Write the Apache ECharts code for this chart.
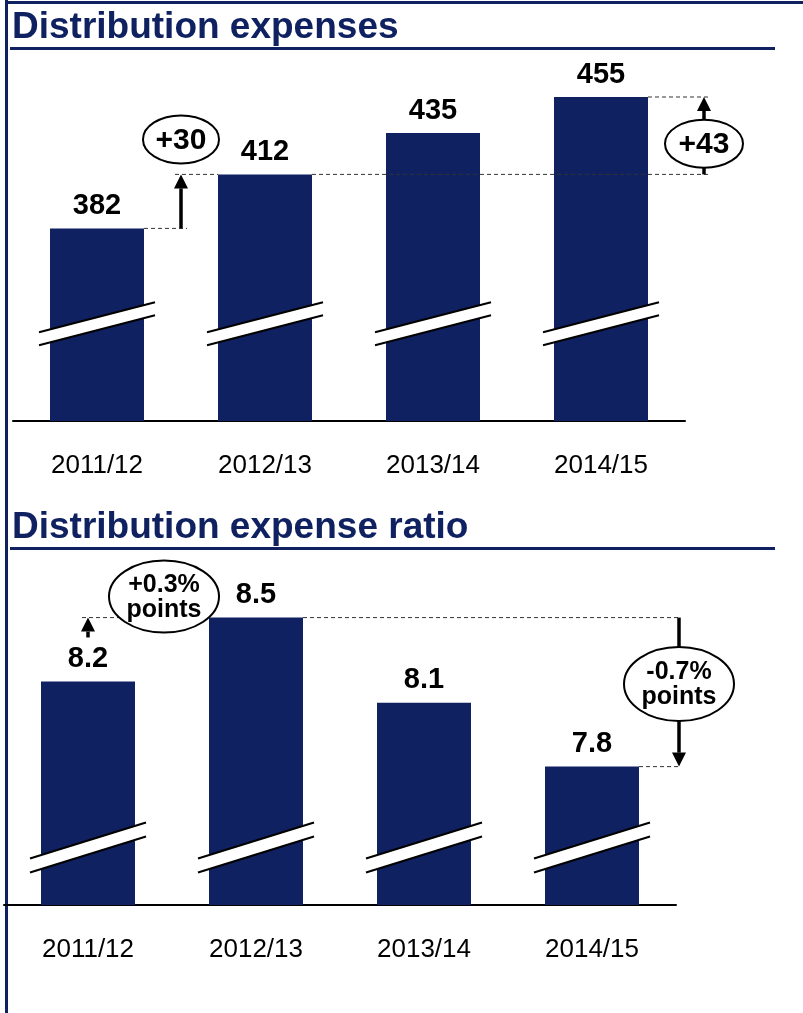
<!DOCTYPE html>
<html>
<head>
<meta charset="utf-8">
<title>Distribution expenses</title>
<script src="https://cdn.jsdelivr.net/npm/echarts@6/dist/echarts.min.js"></script>
<style>
html, body { margin: 0; padding: 0; background: #fff; }
#chart { width: 803px; height: 1013px; }
</style>
</head>
<body>
<div id="chart"></div>
<script>
const years = ['2011/12', '2012/13', '2013/14', '2014/15']
const expenses = [382, 412, 435, 455]
const ratios = [8.2, 8.5, 8.1, 7.8]
const expenseNotes = ['+30', '+43']
const ratioNotes = ['+0.3%\npoints', '-0.7%\npoints']
// value where the "axis break" marks cut through the bars
const expenseBreak = 329
const ratioBreak = 7.42

const navy = '#0f2160'
const font = 'Arial, "Liberation Sans", sans-serif'

const chart = echarts.init(document.getElementById('chart'))

function makeBreak(rise, gap) {
  return function (params, api) {
    const p = api.coord([api.value(0), api.value(1)])
    const half = 58
    const x0 = p[0] - half, x1 = p[0] + half
    const lo = [[x0, p[1] + rise + gap / 2], [x1, p[1] - rise + gap / 2]]
    const hi = [[x0, p[1] + rise - gap / 2], [x1, p[1] - rise - gap / 2]]
    const edge = { stroke: '#000', lineWidth: 2 }
    return {
      type: 'group',
      children: [
        { type: 'polygon', shape: { points: [lo[0], lo[1], hi[1], hi[0]] }, style: { fill: '#fff' } },
        { type: 'line', shape: { x1: lo[0][0], y1: lo[0][1], x2: lo[1][0], y2: lo[1][1] }, style: edge },
        { type: 'line', shape: { x1: hi[0][0], y1: hi[0][1], x2: hi[1][0], y2: hi[1][1] }, style: edge }
      ]
    }
  }
}

const barLabel = {
  show: true,
  position: 'top',
  distance: 8,
  fontSize: 29,
  fontWeight: 'bold',
  fontFamily: font,
  color: '#000'
}

const xAxisBase = {
  type: 'category',
  data: years,
  axisTick: { show: false },
  axisLine: { lineStyle: { color: '#000', width: 2 } },
  axisLabel: { fontSize: 26, fontFamily: font, color: '#000', margin: 32 }
}

chart.setOption({
  animation: false,
  grid: [
    { left: 13, width: 672, top: 61, height: 360 },
    { left: 4, width: 672, top: 575, height: 330 }
  ],
  xAxis: [
    Object.assign({ gridIndex: 0 }, xAxisBase),
    Object.assign({ gridIndex: 1 }, xAxisBase)
  ],
  yAxis: [
    { gridIndex: 0, type: 'value', min: 275, max: 475, show: false, splitLine: { show: false } },
    { gridIndex: 1, type: 'value', min: 7.15, max: 8.7, show: false, splitLine: { show: false } }
  ],
  series: [
    {
      type: 'bar', xAxisIndex: 0, yAxisIndex: 0, data: expenses, barWidth: 94,
      itemStyle: { color: navy }, label: barLabel
    },
    {
      type: 'bar', xAxisIndex: 1, yAxisIndex: 1, data: ratios, barWidth: 94,
      itemStyle: { color: navy }, label: barLabel
    },
    {
      type: 'custom', xAxisIndex: 0, yAxisIndex: 0, z: 5, renderItem: makeBreak(15, 13),
      data: years.map((y, i) => [i, expenseBreak])
    },
    {
      type: 'custom', xAxisIndex: 1, yAxisIndex: 1, z: 5, renderItem: makeBreak(18, 14),
      data: years.map((y, i) => [i, ratioBreak])
    }
  ]
})

// annotations, placed from the chart's own scales
const px = (g, i, v) => chart.convertToPixel({ gridIndex: g }, [i, v])
const half = 47
const dash = (x1, x2, y) => ({
  type: 'line', z: 10, shape: { x1: x1, y1: y, x2: x2, y2: y },
  style: { stroke: '#333', lineWidth: 1, lineDash: [4, 3] }
})
function arrow(x, yFrom, yTo) {
  const dir = yTo < yFrom ? -1 : 1
  const head = 14
  return [
    { type: 'line', z: 11, shape: { x1: x, y1: yFrom, x2: x, y2: yTo - dir * head }, style: { stroke: '#000', lineWidth: 3.5 } },
    { type: 'polygon', z: 11, shape: { points: [[x - 7, yTo - dir * head], [x + 7, yTo - dir * head], [x, yTo]] }, style: { fill: '#000' } }
  ]
}
function bubble(cx, cy, rx, ry, text, size) {
  return [
    { type: 'ellipse', z: 12, shape: { cx: cx, cy: cy, rx: rx, ry: ry }, style: { fill: '#fff', stroke: '#000', lineWidth: 2 } },
    { type: 'text', z: 13, x: cx, y: cy + 1, style: {
      text: text, align: 'center', verticalAlign: 'middle',
      font: 'bold ' + size + 'px ' + font, lineHeight: size, fill: '#000'
    } }
  ]
}

const e = expenses.map((v, i) => px(0, i, v))
const r = ratios.map((v, i) => px(1, i, v))
const els = []

// top chart
els.push(dash(e[0][0] + half, e[0][0] + 90, e[0][1]))
els.push(dash(e[0][0] + 78, e[1][0] - half, e[1][1]))
els.push(dash(e[1][0] + half, e[3][0] + 107, e[1][1]))
els.push(dash(e[3][0] + half, e[3][0] + 107, e[3][1]))
els.push(...arrow(e[0][0] + 84, e[0][1], e[1][1]))
els.push(...bubble(e[0][0] + 84, e[1][1] - 35, 38, 24, expenseNotes[0], 30))
els.push(...arrow(e[3][0] + 103, e[1][1], e[3][1]))
els.push(...bubble(e[3][0] + 103, (e[1][1] + e[3][1]) / 2 + 8, 39, 24, expenseNotes[1], 30))

// bottom chart
els.push(dash(r[0][0] - 6, r[1][0] - half, r[1][1]))
els.push(dash(r[1][0] + half, r[3][0] + 88, r[1][1]))
els.push(dash(r[3][0] + half, r[3][0] + 88, r[3][1]))
els.push(...arrow(r[0][0], r[0][1] - 44, r[1][1]))
els.push(...bubble(r[0][0] + 76, r[1][1] - 21, 55, 36, ratioNotes[0], 25))
els.push(...arrow(r[3][0] + 87, r[1][1], r[3][1]))
els.push(...bubble(r[3][0] + 87, (r[1][1] + r[3][1]) / 2 - 8, 55, 37, ratioNotes[1], 25))

// frame and section titles
els.push({ type: 'rect', shape: { x: 5, y: 0, width: 3, height: 1013 }, style: { fill: navy } })
els.push({ type: 'rect', shape: { x: 5, y: 1, width: 798, height: 3 }, style: { fill: navy } })
els.push({ type: 'rect', shape: { x: 10, y: 47, width: 765, height: 3 }, style: { fill: navy } })
els.push({ type: 'rect', shape: { x: 10, y: 547, width: 765, height: 3 }, style: { fill: navy } })
els.push({ type: 'text', x: 12, y: 28, style: { text: 'Distribution expenses', font: 'bold 37px ' + font, fill: navy, verticalAlign: 'middle' } })
els.push({ type: 'text', x: 12, y: 528, style: { text: 'Distribution expense ratio', font: 'bold 37px ' + font, fill: navy, verticalAlign: 'middle' } })

chart.setOption({ graphic: els })
</script>
</body>
</html>
